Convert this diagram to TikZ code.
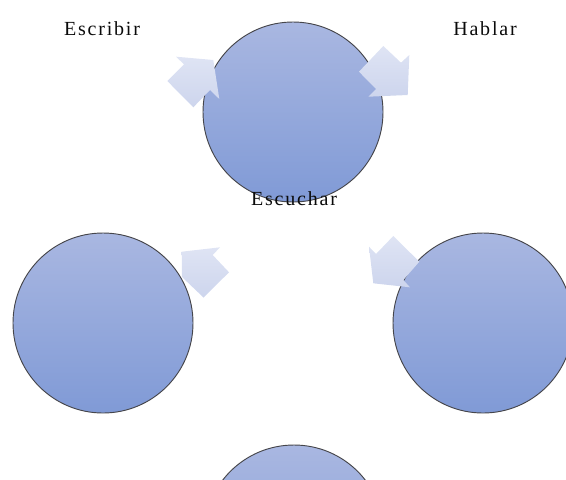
\documentclass[tikz,border=0pt]{standalone}
\usepackage{fontspec}
\setmainfont{Liberation Serif}
\newfontfamily\labelfont{Liberation Serif}[LetterSpace=9]
\usepackage{tikz}
\usepackage{xcolor}

\tikzset{
  ball/.style={circle, draw={rgb, 255:red, 70; green, 70; blue, 75 }, line width=0.7pt, minimum size=135pt, inner sep=0pt,
    top color={rgb, 255:red, 169; green, 183; blue, 225 }, bottom color={rgb, 255:red, 128; green, 154; blue, 214 }},
  blockarrow/.style={top color={rgb, 255:red, 223; green, 228; blue, 244 }, bottom color={rgb, 255:red, 205; green, 213; blue, 237 }},
  tag/.style={anchor=base, inner sep=0.75pt, font=\labelfont\fontsize{15}{18}\selectfont, color={rgb, 255:red, 10; green, 10; blue, 10 }}
}

\begin{document}
\begin{tikzpicture}[x=0.75pt,y=0.75pt,yscale=-1,xscale=1]
\useasboundingbox (0,0) rectangle (566,479);
\clip (0,0) rectangle (566,479);

%Shape: Circle
\node (top) [ball] at (293,112) {};
%Shape: Circle
\node (left) [ball] at (103,323) {};
%Shape: Circle
\node (right) [ball] at (483,323) {};
%Shape: Circle
\node (bottom) [ball] at (294,535) {};

%Shape: Right Arrow
\shade [blockarrow] (176,56.7) -- (213.3,60) -- (219.3,99) -- (210,90) -- (193.3,107.3) -- (167.3,81) -- (184,64.3) -- cycle ;
%Shape: Right Arrow
\shade [blockarrow] (359,71.7) -- (383.3,46) -- (401,62.7) -- (409.3,55) -- (407.7,95) -- (368.3,96.7) -- (376,89) -- cycle ;
%Shape: Right Arrow
\shade [blockarrow] (369,246.7) -- (376,254) -- (393.3,236) -- (419.3,261.7) -- (403.3,280) -- (410,287.3) -- (373.3,283.3) -- cycle ;
%Shape: Right Arrow
\shade [blockarrow] (181.7,251.7) -- (220,247.3) -- (212.7,255) -- (229,272.3) -- (203.5,297.5) -- (182,277) -- cycle ;

% Text Node
\draw (102,35) node (escribir) [tag] {Escribir};
% Text Node
\draw (485,35) node (hablar) [tag] {Hablar};
% Text Node
\draw (294,205) node (escuchar) [tag] {Escuchar};

\end{tikzpicture}
\end{document}
